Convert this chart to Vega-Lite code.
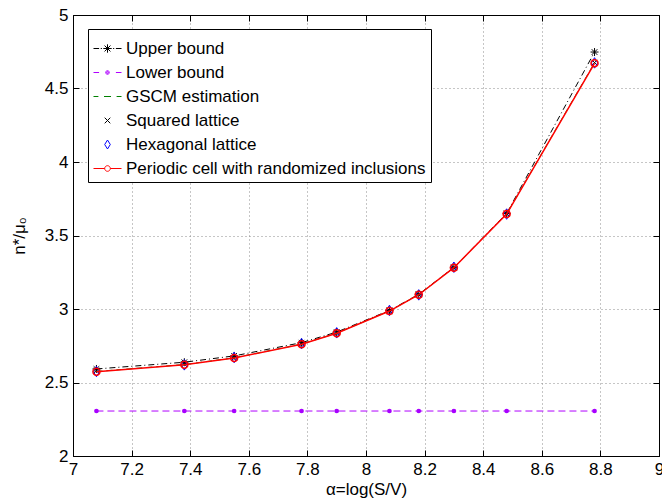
{
  "$schema": "https://vega.github.io/schema/vega-lite/v6.json",
  "width": 586,
  "height": 441,
  "autosize": {"type": "none"},
  "padding": {"left": 73, "top": 15, "right": 3, "bottom": 43},
  "background": "white",
  "config": {
    "font": "Liberation Sans",
    "view": {"stroke": "black", "strokeWidth": 1},
    "axis": {
      "labelFont": "Liberation Sans",
      "labelFontSize": 17,
      "labelColor": "black",
      "titleFont": "Liberation Sans",
      "titleFontSize": 17,
      "titleFontWeight": "normal",
      "titleColor": "black",
      "domainColor": "black",
      "domainWidth": 1,
      "tickColor": "black",
      "tickSize": -6,
      "labelPadding": 11,
      "gridColor": "#8c8c8c",
      "gridDash": [1, 3],
      "gridWidth": 1,
      "labelOverlap": false,
      "labelFlush": false
    },
    "legend": {
      "orient": "none",
      "legendX": 15,
      "legendY": 14,
      "padding": 5,
      "strokeColor": "black",
      "fillColor": "white",
      "symbolSize": 784,
      "symbolStrokeWidth": 1,
      "labelFont": "Liberation Sans",
      "labelFontSize": 17,
      "labelColor": "black",
      "labelOffset": 4,
      "labelLimit": 500,
      "rowPadding": 1
    }
  },
  "datasets": {
    "main": [
      {"x": 7.08, "upper": 2.592, "lower": 2.306, "gscm": 2.575, "square": 2.58, "hex": 2.575, "periodic": 2.573},
      {"x": 7.38, "upper": 2.638, "lower": 2.306, "gscm": 2.622, "square": 2.625, "hex": 2.62, "periodic": 2.621},
      {"x": 7.55, "upper": 2.681, "lower": 2.306, "gscm": 2.668, "square": 2.668, "hex": 2.67, "periodic": 2.667},
      {"x": 7.78, "upper": 2.771, "lower": 2.306, "gscm": 2.761, "square": 2.762, "hex": 2.765, "periodic": 2.76},
      {"x": 7.9, "upper": 2.843, "lower": 2.306, "gscm": 2.836, "square": 2.836, "hex": 2.838, "periodic": 2.835},
      {"x": 8.08, "upper": 2.99, "lower": 2.306, "gscm": 2.987, "square": 2.986, "hex": 2.99, "periodic": 2.986},
      {"x": 8.18, "upper": 3.1, "lower": 2.306, "gscm": 3.098, "square": 3.098, "hex": 3.096, "periodic": 3.097},
      {"x": 8.3, "upper": 3.283, "lower": 2.306, "gscm": 3.282, "square": 3.281, "hex": 3.284, "periodic": 3.281},
      {"x": 8.48, "upper": 3.65, "lower": 2.306, "gscm": 3.647, "square": 3.646, "hex": 3.646, "periodic": 3.646},
      {"x": 8.78, "upper": 4.748, "lower": 2.306, "gscm": 4.675, "square": 4.676, "hex": 4.674, "periodic": 4.671}
    ],
    "legendItems": [
      {"series": "Upper bound"},
      {"series": "Lower bound"},
      {"series": "GSCM estimation"},
      {"series": "Squared lattice"},
      {"series": "Hexagonal lattice"},
      {"series": "Periodic cell with randomized inclusions"}
    ]
  },
  "data": {"name": "main"},
  "layer": [
    {
      "mark": {"type": "line", "color": "black", "strokeWidth": 1, "strokeDash": [6, 3, 1, 3]},
      "encoding": {
        "x": {"field": "x", "type": "quantitative", "scale": {"domain": [7, 9], "nice": false, "zero": false},
          "axis": {"orient": "bottom", "title": "α=log(S/V)", "values": [7, 7.2, 7.4, 7.6, 7.8, 8, 8.2, 8.4, 8.6, 8.8, 9], "format": "~g", "grid": true, "titlePadding": 4}},
        "y": {"field": "upper", "type": "quantitative", "scale": {"domain": [2, 5], "nice": false, "zero": false},
          "axis": {"orient": "left", "title": "n*/μ₀", "values": [2, 2.5, 3, 3.5, 4, 4.5, 5], "format": "~g", "grid": true, "titlePadding": 16}}
      }
    },
    {
      "mark": {"type": "line", "color": "black", "strokeWidth": 1, "opacity": 0},
      "encoding": {
        "x": {"field": "x", "type": "quantitative",
          "axis": {"orient": "top", "title": null, "labels": false, "grid": false, "values": [7, 7.2, 7.4, 7.6, 7.8, 8, 8.2, 8.4, 8.6, 8.8, 9]}},
        "y": {"field": "upper", "type": "quantitative",
          "axis": {"orient": "right", "title": null, "labels": false, "grid": false, "values": [2, 2.5, 3, 3.5, 4, 4.5, 5]}}
      }
    },
    {
      "mark": {"type": "point", "shape": "M-1,0H1M0,-1V1M-0.7,-0.7L0.7,0.7M-0.7,0.7L0.7,-0.7", "size": 64, "color": "black", "strokeWidth": 1, "filled": false, "opacity": 1},
      "encoding": {
        "x": {"field": "x", "type": "quantitative", "axis": null},
        "y": {"field": "upper", "type": "quantitative", "axis": null}
      }
    },
    {
      "mark": {"type": "line", "color": "#b000ff", "strokeWidth": 1, "strokeDash": [7, 4]},
      "encoding": {
        "x": {"field": "x", "type": "quantitative", "axis": null},
        "y": {"field": "lower", "type": "quantitative", "axis": null}
      }
    },
    {
      "mark": {"type": "point", "shape": "circle", "size": 22, "color": "#a800ff", "filled": true, "opacity": 1},
      "encoding": {
        "x": {"field": "x", "type": "quantitative", "axis": null},
        "y": {"field": "lower", "type": "quantitative", "axis": null}
      }
    },
    {
      "mark": {"type": "line", "color": "#008000", "strokeWidth": 1, "strokeDash": [6, 4]},
      "encoding": {
        "x": {"field": "x", "type": "quantitative", "axis": null},
        "y": {"field": "gscm", "type": "quantitative", "axis": null}
      }
    },
    {
      "mark": {"type": "point", "shape": "M-0.7,-0.7L0.7,0.7M-0.7,0.7L0.7,-0.7", "size": 64, "color": "black", "strokeWidth": 1, "filled": false, "opacity": 1},
      "encoding": {
        "x": {"field": "x", "type": "quantitative", "axis": null},
        "y": {"field": "square", "type": "quantitative", "axis": null}
      }
    },
    {
      "mark": {"type": "point", "shape": "M0,-1L0.6,0L0,1L-0.6,0Z", "size": 110, "color": "blue", "strokeWidth": 1, "filled": false, "opacity": 1},
      "encoding": {
        "x": {"field": "x", "type": "quantitative", "axis": null},
        "y": {"field": "hex", "type": "quantitative", "axis": null}
      }
    },
    {
      "mark": {"type": "line", "color": "red", "strokeWidth": 1.5},
      "encoding": {
        "x": {"field": "x", "type": "quantitative", "axis": null},
        "y": {"field": "periodic", "type": "quantitative", "axis": null}
      }
    },
    {
      "mark": {"type": "point", "shape": "circle", "size": 49, "color": "red", "strokeWidth": 1.5, "filled": false, "opacity": 1},
      "encoding": {
        "x": {"field": "x", "type": "quantitative", "axis": null},
        "y": {"field": "periodic", "type": "quantitative", "axis": null}
      }
    },
    {
      "data": {"name": "legendItems"},
      "mark": {"type": "point", "filled": false, "opacity": 1},
      "encoding": {
        "x": {"field": "x", "type": "quantitative", "axis": null},
        "y": {"field": "y", "type": "quantitative", "axis": null},
        "color": {
          "field": "series", "type": "nominal", "legend": {"title": null},
          "scale": {
            "domain": ["Upper bound", "Lower bound", "GSCM estimation", "Squared lattice", "Hexagonal lattice", "Periodic cell with randomized inclusions"],
            "range": ["black", "#b000ff", "#008000", "black", "blue", "red"]
          }
        },
        "shape": {
          "field": "series", "type": "nominal", "legend": {"title": null},
          "scale": {
            "domain": ["Upper bound", "Lower bound", "GSCM estimation", "Squared lattice", "Hexagonal lattice", "Periodic cell with randomized inclusions"],
            "range": [
              "M-1,0H-0.6M-0.48,0H-0.4M0.4,0H0.48M0.6,0H1M-0.3,0H0.3M0,-0.3V0.3M-0.21,-0.21L0.21,0.21M-0.21,0.21L0.21,-0.21",
              "M-1,0H-0.6M0.6,0H1M-0.13,0A0.13,0.13 0 1,0 0.13,0A0.13,0.13 0 1,0 -0.13,0M-0.06,0A0.06,0.06 0 1,0 0.06,0A0.06,0.06 0 1,0 -0.06,0",
              "M-1,0H-0.65M-0.25,0H0.25M0.65,0H1",
              "M-0.2,-0.2L0.2,0.2M-0.2,0.2L0.2,-0.2",
              "M0,-0.32L0.2,0L0,0.32L-0.2,0Z",
              "M-1,0H-0.2M0.2,0H1M-0.2,0A0.2,0.2 0 1,0 0.2,0A0.2,0.2 0 1,0 -0.2,0"
            ]
          }
        }
      }
    }
  ],
  "resolve": {"axis": {"x": "independent", "y": "independent"}}
}
